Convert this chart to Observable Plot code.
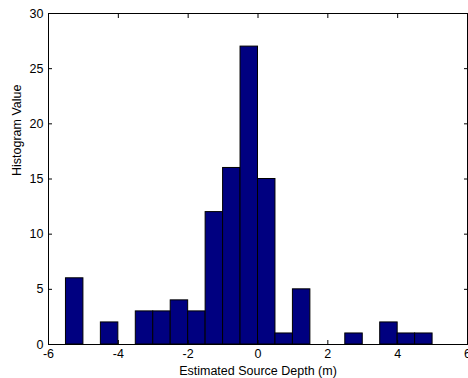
<!DOCTYPE html>
<html>
<head>
<meta charset="utf-8">
<script src="https://cdn.jsdelivr.net/npm/d3@7"></script>
<script src="https://cdn.jsdelivr.net/npm/@observablehq/plot@0.6"></script>
<style>
  html, body { margin: 0; padding: 0; background: #fff; }
  #chart svg { display: block; }
</style>
</head>
<body>
<div id="chart"></div>
<script>
const binEdges = [-5.5, -5, -4.5, -4, -3.5, -3, -2.5, -2, -1.5, -1, -0.5, 0, 0.5, 1, 1.5, 2, 2.5, 3, 3.5, 4, 4.5, 5];
const counts = [6, 0, 2, 0, 3, 3, 4, 3, 12, 16, 27, 15, 1, 5, 0, 0, 1, 0, 2, 1, 1];
const xTicks = [-6, -4, -2, 0, 2, 4, 6];
const yTicks = [0, 5, 10, 15, 20, 25, 30];
const xLabel = "Estimated Source Depth (m)";
const yLabel = "Histogram Value";

const bins = counts.map((c, i) => ({x1: binEdges[i], x2: binEdges[i + 1], y: c})).filter(d => d.y > 0);

const chart = Plot.plot({
  width: 468,
  height: 378,
  marginLeft: 48,
  marginRight: 1,
  marginTop: 13,
  marginBottom: 34,
  style: {fontFamily: "Liberation Sans, Arial, sans-serif", fontSize: "12.5px", color: "#000", background: "#fff"},
  x: {domain: [-6, 6]},
  y: {domain: [0, 30]},
  marks: [
    Plot.rectY(bins, {x1: "x1", x2: "x2", y: "y", fill: "#000080", stroke: "#000", strokeWidth: 1}),
    Plot.frame({stroke: "#000", strokeWidth: 1}),
    Plot.axisX({anchor: "bottom", ticks: xTicks, tickSize: 0, tickPadding: 5, tickFormat: d => String(d).replace("−", "-"), label: xLabel, labelAnchor: "center", labelArrow: "none", labelOffset: 30}),
    Plot.axisX({anchor: "bottom", ticks: xTicks, tickSize: -4, tickFormat: () => "", label: null}),
    Plot.axisX({anchor: "top", ticks: xTicks, tickSize: -4, tickFormat: () => "", label: null}),
    Plot.axisY({anchor: "left", ticks: yTicks, tickSize: 0, tickPadding: 5, label: null}),
    Plot.axisY({anchor: "left", ticks: yTicks, tickSize: -4, tickFormat: () => "", label: null}),
    Plot.axisY({anchor: "right", ticks: yTicks, tickSize: -4, tickFormat: () => "", label: null}),
    Plot.text([yLabel], {text: d => d, frameAnchor: "left", rotate: -90, dx: -32, dy: -3, fontSize: 12.5, fill: "#000"})
  ]
});
document.getElementById("chart").appendChild(chart);
</script>
</body>
</html>
